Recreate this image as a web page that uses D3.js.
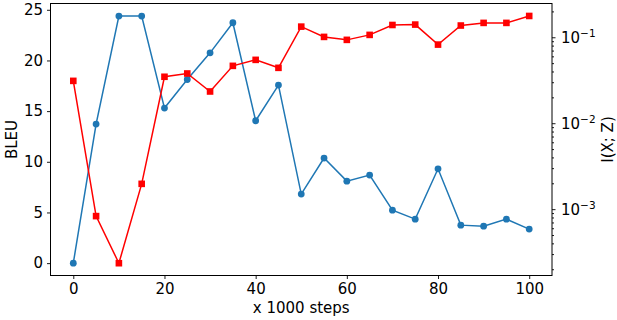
<!DOCTYPE html>
<html>
<head>
<meta charset="utf-8">
<script src="https://cdn.jsdelivr.net/npm/d3@7"></script>
<style>
  body { margin: 0; background: #fff; }
  text { font-family: "DejaVu Sans", sans-serif; fill: #000; }
</style>
</head>
<body>
<script>
// steps (x 1000), BLEU on left axis, I(X;Z) on right log axis
const steps = [0, 5, 10, 15, 20, 25, 30, 35, 40, 45, 50, 55, 60, 65, 70, 75, 80, 85, 90, 95, 100]
const bleu = [0, 13.72, 24.38, 24.38, 15.3, 18.12, 20.75, 23.72, 14.05, 17.57, 6.81,
    10.37, 8.09, 8.69, 5.23, 4.34, 9.31, 3.75, 3.65, 4.34, 3.36]
const mi = [0.0311, 0.00083, 0.000235, 0.00197, 0.0347, 0.0379, 0.0234, 0.0465, 0.0546, 0.0441, 0.133,
    0.101, 0.0933, 0.1066, 0.139, 0.1405, 0.0822, 0.137, 0.147, 0.147, 0.177]
const xTicks = [0, 20, 40, 60, 80, 100]
const bleuTicks = [0, 5, 10, 15, 20, 25]
const miTicks = [1e-3, 1e-2, 1e-1]

const margin = { top: 3.5, right: 65, bottom: 44.5, left: 50.5 }
const W = 617, H = 320
const width = W - margin.left - margin.right
const height = H - margin.top - margin.bottom

const svg = d3.select('body').append('svg')
    .attr('width', W)
    .attr('height', H)
const g = svg.append('g')
    .attr('transform', `translate(${margin.left},${margin.top})`)

const x = d3.scaleLinear().domain([-5, 105]).range([0, width])
const yL = d3.scaleLinear().domain([-1.22, 25.62]).range([height, 0])
const yR = d3.scaleLog().domain([Math.pow(10, -3.772), Math.pow(10, -0.607)]).range([height, 0])

// x axis
const xAxis = g.append('g')
    .attr('transform', `translate(0,${height})`)
    .call(d3.axisBottom(x).tickValues(xTicks).tickSize(3.5).tickPadding(4))
// left axis
const yAxisL = g.append('g')
    .call(d3.axisLeft(yL).tickValues(bleuTicks).tickSize(3.5).tickPadding(4))
// right axis, log with minor ticks
const minor = []
for (let e = -4; e <= -1; e++) {
    for (let m = 2; m <= 9; m++) {
        const v = m * Math.pow(10, e)
        if (v >= yR.domain()[0] && v <= yR.domain()[1]) minor.push(v)
    }
}
g.append('g')
    .attr('transform', `translate(${width},0)`)
    .call(d3.axisRight(yR).tickValues(minor).tickSize(2).tickFormat(''))
const yAxisR = g.append('g')
    .attr('transform', `translate(${width},0)`)
    .call(d3.axisRight(yR).tickValues(miTicks).tickSize(3.5).tickPadding(5).tickFormat(''))

yAxisR.selectAll('.tick').append('text')
    .attr('x', 9)
    .attr('dy', '0.35em')
    .style('font-size', '15px')
    .each(function(d) {
        const t = d3.select(this)
        t.append('tspan').text('10')
        t.append('tspan')
            .attr('dy', '-0.55em')
            .style('font-size', '10.5px')
            .text('\u2212' + Math.round(-Math.log10(d)))
    })

svg.selectAll('.domain').remove()
g.selectAll('.tick line').attr('stroke', '#000').attr('stroke-width', 0.9)
xAxis.selectAll('text').style('font-size', '15px').attr('fill', '#000')
yAxisL.selectAll('text').style('font-size', '15px').attr('fill', '#000')

// frame
g.append('rect')
    .attr('width', width)
    .attr('height', height)
    .attr('fill', 'none')
    .attr('stroke', '#000')
    .attr('stroke-width', 1)

// blue series (BLEU)
const pts = steps.map((s, i) => ({ s, b: bleu[i], m: mi[i] }))
g.append('path')
    .datum(pts)
    .attr('fill', 'none')
    .attr('stroke', '#1f77b4')
    .attr('stroke-width', 1.5)
    .attr('d', d3.line().x(d => x(d.s)).y(d => yL(d.b)))
g.selectAll('circle')
    .data(pts)
    .enter().append('circle')
    .attr('cx', d => x(d.s))
    .attr('cy', d => yL(d.b))
    .attr('r', 3.4)
    .attr('fill', '#1f77b4')

// red series (I(X;Z))
g.append('path')
    .datum(pts)
    .attr('fill', 'none')
    .attr('stroke', 'red')
    .attr('stroke-width', 1.5)
    .attr('d', d3.line().x(d => x(d.s)).y(d => yR(d.m)))
g.selectAll('rect.sq')
    .data(pts)
    .enter().append('rect')
    .attr('class', 'sq')
    .attr('x', d => x(d.s) - 3.3)
    .attr('y', d => yR(d.m) - 3.3)
    .attr('width', 6.6)
    .attr('height', 6.6)
    .attr('fill', 'red')

// axis labels
svg.append('text')
    .attr('x', margin.left + width / 2)
    .attr('y', 313)
    .attr('text-anchor', 'middle')
    .style('font-size', '15px')
    .text('x 1000 steps')
svg.append('text')
    .attr('transform', `translate(17,${margin.top + height / 2}) rotate(-90)`)
    .attr('text-anchor', 'middle')
    .style('font-size', '15px')
    .text('BLEU')
svg.append('text')
    .attr('transform', `translate(613,${margin.top + height / 2}) rotate(-90)`)
    .attr('text-anchor', 'middle')
    .style('font-size', '15px')
    .text('I(X; Z)')
</script>
</body>
</html>
